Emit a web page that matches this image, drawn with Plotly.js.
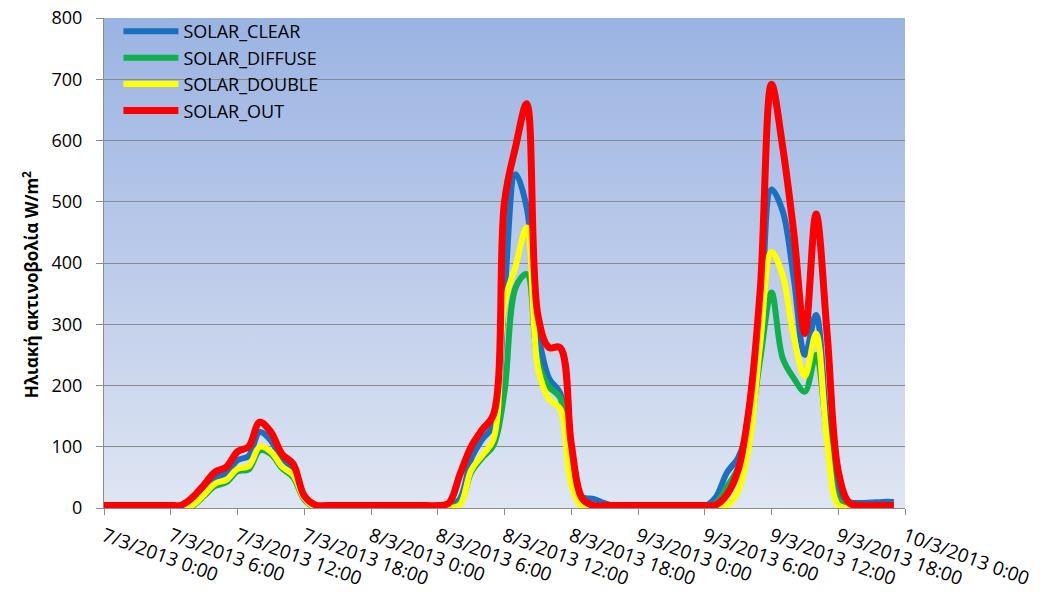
<!DOCTYPE html>
<html>
<head>
<meta charset="utf-8">
<script src="https://cdn.plot.ly/plotly-3.0.1.min.js"></script>
<style>
  html, body { margin: 0; padding: 0; background: #ffffff; }
  #chart { width: 1040px; height: 592px; }
</style>
</head>
<body>
<div id="chart"></div>
<script>
// ---------- DATA (hourly readings, 7/3/2013 00:00 .. 9/3/2013 23:00) ----------
const startDate = [2013, 3, 7]; // year, month, day
const hoursCount = 72;

const solarClear = [
  2, 2, 2, 2, 2, 2, 2, 0, 12, 30, 50, 57, 78, 85, 124, 110, 78, 62, 15, 2, 2, 2, 2, 2,
  2, 2, 2, 2, 2, 2, 2, 2, 15, 80, 112, 135, 350, 545, 490, 290, 212, 188, 75, 18, 15, 8, 3, 2,
  2, 2, 2, 2, 2, 2, 3, 18, 58, 82, 140, 290, 520, 485, 375, 250, 315, 135, 28, 10, 8, 9, 10, 10
];
const solarDiffuse = [
  1, 1, 1, 1, 1, 1, 1, 0, 4, 20, 36, 42, 60, 63, 94, 88, 65, 50, 14, 1, 1, 1, 1, 1,
  1, 1, 1, 1, 1, 1, 1, 1, 8, 58, 82, 102, 190, 360, 382, 240, 198, 180, 50, 5, 4, 2, 1, 1,
  1, 1, 1, 1, 1, 1, 1, 8, 35, 65, 125, 245, 352, 245, 212, 190, 250, 118, 12, 2, 1, 1, 1, 1
];
const solarDouble = [
  0, 0, 0, 0, 0, 0, 0, 0, 5, 22, 40, 46, 64, 68, 100, 92, 68, 54, 16, 1, 0, 0, 0, 0,
  0, 0, 0, 0, 0, 0, 0, 0, 5, 62, 86, 112, 334, 395, 458, 230, 178, 162, 38, 1, 0, 0, 0, 0,
  0, 0, 0, 0, 0, 0, 0, 0, 4, 28, 105, 270, 418, 380, 280, 215, 285, 108, 5, 0, 0, 0, 0, 0
];
const solarOut = [
  4, 4, 4, 4, 4, 4, 4, 5, 18, 38, 59, 67, 92, 100, 140, 124, 88, 72, 20, 5, 4, 4, 4, 4,
  4, 4, 4, 4, 4, 4, 4, 8, 55, 100, 128, 152, 500, 590, 660, 315, 262, 262, 105, 15, 4, 4, 4, 4,
  4, 4, 4, 4, 4, 4, 4, 5, 22, 62, 165, 360, 692, 590, 450, 285, 480, 285, 60, 8, 4, 4, 4, 4
];

const seriesNames = ['SOLAR_CLEAR', 'SOLAR_DIFFUSE', 'SOLAR_DOUBLE', 'SOLAR_OUT'];
const seriesColors = ['#1b6fc2', '#10b04e', '#ffff00', '#ff0000'];
const seriesWidths = [6, 6, 6, 7];

const tickDates = [
  '2013-03-07 00:00', '2013-03-07 06:00', '2013-03-07 12:00', '2013-03-07 18:00',
  '2013-03-08 00:00', '2013-03-08 06:00', '2013-03-08 12:00', '2013-03-08 18:00',
  '2013-03-09 00:00', '2013-03-09 06:00', '2013-03-09 12:00', '2013-03-09 18:00',
  '2013-03-10 00:00'
];
const tickLabels = [
  '7/3/2013 0:00', '7/3/2013 6:00', '7/3/2013 12:00', '7/3/2013 18:00',
  '8/3/2013 0:00', '8/3/2013 6:00', '8/3/2013 12:00', '8/3/2013 18:00',
  '9/3/2013 0:00', '9/3/2013 6:00', '9/3/2013 12:00', '9/3/2013 18:00',
  '10/3/2013 0:00'
];
const yTitle = 'Ηλιακή ακτινοβολία W/m<sup>2</sup>';

// ---------- build time axis ----------
function pad(n) { return (n < 10 ? '0' : '') + n; }
const times = [];
for (let i = 0; i < hoursCount; i++) {
  const d = new Date(Date.UTC(startDate[0], startDate[1] - 1, startDate[2], i));
  times.push(d.getUTCFullYear() + '-' + pad(d.getUTCMonth() + 1) + '-' + pad(d.getUTCDate()) +
             ' ' + pad(d.getUTCHours()) + ':00');
}

const allSeries = [solarClear, solarDiffuse, solarDouble, solarOut];
const traces = allSeries.map((vals, i) => ({
  x: times,
  y: vals,
  type: 'scatter',
  mode: 'lines',
  name: seriesNames[i],
  line: { color: seriesColors[i], width: seriesWidths[i], shape: 'spline', smoothing: 1 },
  hoverinfo: 'x+y+name'
}));

// gradient background for plot area
const gradSvg = "<svg xmlns='http://www.w3.org/2000/svg' width='100' height='100' preserveAspectRatio='none'>" +
  "<defs><linearGradient id='g' x1='0' y1='0' x2='0' y2='1'>" +
  "<stop offset='0' stop-color='#9ab4e2'/><stop offset='0.5' stop-color='#bccbea'/><stop offset='1' stop-color='#dfe6f3'/>" +
  "</linearGradient></defs><rect width='100' height='100' fill='url(#g)'/></svg>";

const fontFamily = 'Open Sans, Arial, sans-serif';

const layout = {
  width: 1040,
  height: 592,
  margin: { l: 104, r: 135, t: 18, b: 84 },
  paper_bgcolor: '#ffffff',
  plot_bgcolor: 'rgba(0,0,0,0)',
  font: { family: fontFamily, size: 18, color: '#000000' },
  showlegend: true,
  legend: {
    x: 0.018, y: 1.01, xanchor: 'left', yanchor: 'top',
    bgcolor: 'rgba(0,0,0,0)',
    font: { family: fontFamily, size: 18, color: '#000000' },
    itemwidth: 55,
    tracegroupgap: 0
  },
  images: [{
    source: 'data:image/svg+xml;base64,' + btoa(gradSvg),
    xref: 'paper', yref: 'paper', x: 0, y: 1, sizex: 1, sizey: 1,
    xanchor: 'left', yanchor: 'top', sizing: 'stretch', layer: 'below'
  }],
  annotations: [{
    text: '<b>' + yTitle + '</b>',
    xref: 'paper', yref: 'paper',
    x: -0.092, y: 0.455,
    xanchor: 'center', yanchor: 'middle',
    textangle: -90,
    showarrow: false,
    font: { family: fontFamily, size: 17, color: '#000000' }
  }],
  xaxis: {
    type: 'date',
    range: ['2013-03-07 00:00', '2013-03-10 00:00'],
    tickmode: 'array',
    tickvals: tickDates,
    ticktext: tickLabels,
    tickangle: 20,
    ticks: 'outside',
    ticklen: 6,
    tickcolor: '#8c8c8c',
    ticklabelstandoff: 3,
    showline: true,
    linecolor: '#8c8c8c',
    linewidth: 1,
    showgrid: false,
    zeroline: false,
    tickfont: { family: fontFamily, size: 19, color: '#000000' },
    fixedrange: true
  },
  yaxis: {
    range: [0, 800],
    tickmode: 'linear',
    tick0: 0,
    dtick: 100,
    ticks: 'outside',
    ticklen: 7,
    tickcolor: '#8c8c8c',
    ticklabelstandoff: 10,
    showline: true,
    linecolor: '#8c8c8c',
    linewidth: 1,
    showgrid: true,
    gridcolor: '#8a8a8a',
    gridwidth: 1,
    zeroline: false,
    tickfont: { family: fontFamily, size: 18, color: '#000000' },
    fixedrange: true
  }
};

Plotly.newPlot('chart', traces, layout, { displayModeBar: false, staticPlot: true });
</script>
</body>
</html>
